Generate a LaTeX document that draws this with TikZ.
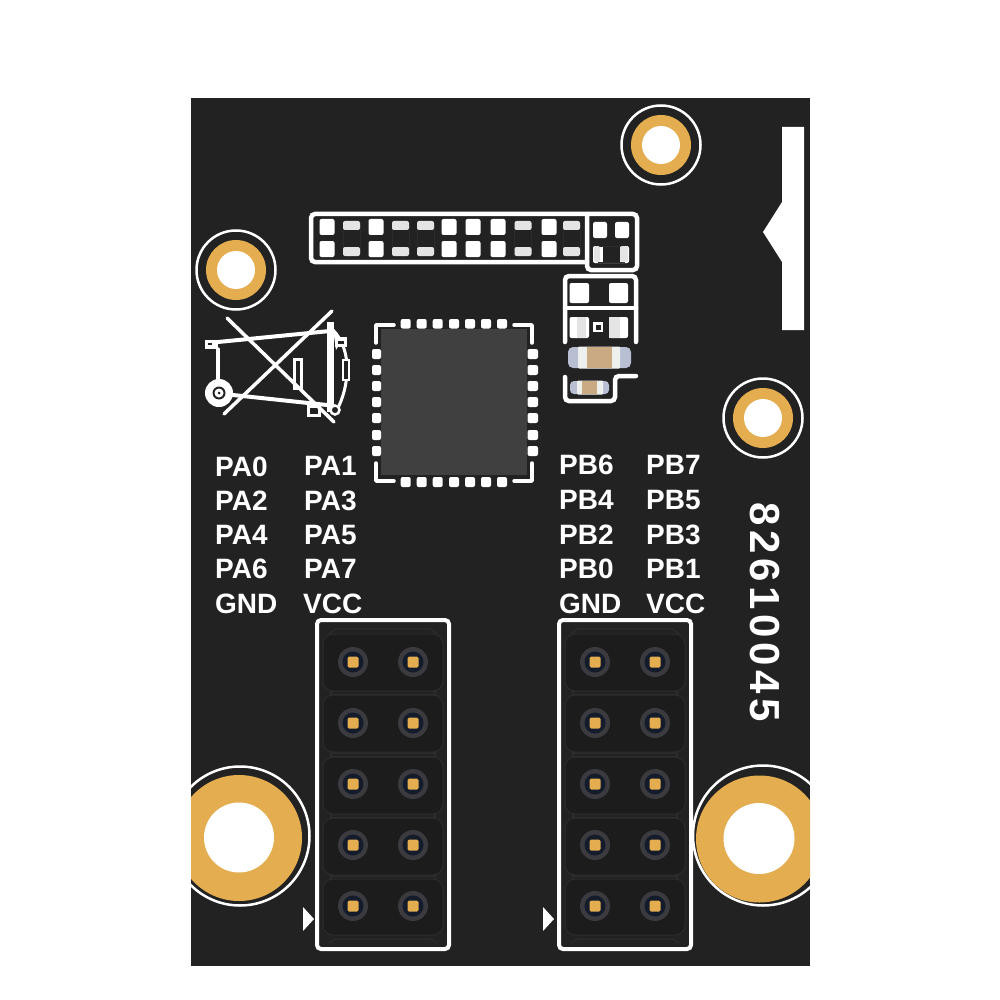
\documentclass[tikz,border=0pt]{standalone}
\usepackage{fontspec}
\setmainfont{Liberation Sans}
\definecolor{board}{HTML}{222222}
\definecolor{gold}{HTML}{E3AD50}
\definecolor{chipc}{HTML}{404040}
\definecolor{padg}{HTML}{E4E4E4}
\definecolor{capb}{HTML}{B9BFD3}
\definecolor{capw}{HTML}{EEF0EE}
\definecolor{tan}{HTML}{C9AA83}
\definecolor{hous}{HTML}{1C1C1C}
\definecolor{housl}{HTML}{2C2C2C}
\definecolor{ringc}{HTML}{3A3A3F}
\definecolor{pinb}{HTML}{141B2A}
\tikzset{
  silk/.style={draw=white,line width=4.5pt,rounded corners=4pt,line cap=round},
  thinsilk/.style={draw=white,line width=3.5pt,line cap=round,line join=round},
  wpad/.style={fill=white,rounded corners=2pt},
  gpad/.style={fill=padg,rounded corners=2pt},
  lbl/.style={text=white,font=\bfseries\fontsize{28}{28}\selectfont,anchor=base west,inner sep=0pt},
  housing/.style={fill=hous,draw=housl,line width=1pt,rounded corners=10pt},
  tab/.style={draw=housl,line width=1.2pt},
  faint/.style={draw=housl,line width=.8pt}
}
% ring cx cy r, pad cx cy r
\newcommand{\hole}[6]{%
  \draw[white,line width=2.5pt] (#1,#2) circle (#3);
  \fill[gold] (#4,#5) circle (#6);}
\newcommand{\pin}[2]{%
  \fill[ringc] (#1,#2) circle (15);
  \fill[pinb] (#1,#2) circle (10.5);
  \fill[gold,rounded corners=1.5pt] (#1-5.5,#2-5.5) rectangle (#1+5.5,#2+5.5);}
\newcommand{\header}[1]{%
  \begin{scope}[shift={(#1,0)}]
    \draw[tab] (12,634) -- (18,629) -- (114,629) -- (120,634);
    \draw[tab] (12,943) -- (18,939) -- (114,939) -- (120,943);
    \foreach \y in {690,752,813,875}{
      \draw[tab] (14,\y) -- (14,\y+6) (118,\y) -- (118,\y+6) (14,\y+1) -- (118,\y+1) (14,\y+5) -- (118,\y+5);}
    \foreach \t/\b in {634/691,695/752,757/814,818/875,879/935}{
      \path[housing] (6,\t) rectangle (126,\b);}
    \draw[silk,line width=4pt] (0,620) rectangle (132,949);
    \foreach \y in {662,723,784,845,906}{
      \pin{36}{\y}\pin{96}{\y}}
  \end{scope}}
\newcommand{\capac}[9]{% x0 x1 x2 x3 x4 x5 y0 y1 radius
  \fill[capb,rounded corners=#9] (#1,#7) rectangle (#6,#8);
  \fill[capw,rounded corners=1pt] (#2,#7-.5) rectangle (#5,#8+.5);
  \fill[tan] (#3,#7) rectangle (#4,#8);}
\begin{document}
\begin{tikzpicture}[x=1pt,y=-1pt]
\useasboundingbox (0,0) rectangle (1000,1000);
\fill[white] (0,0) rectangle (1000,1000);
\fill[board] (191,98) rectangle (810,966);
% mounting holes
\begin{scope}
  \clip (191,98) rectangle (810,966);
  \hole{661}{145}{39.5}{661}{145}{30}
  \hole{236}{270}{39.5}{236}{270}{30}
  \hole{763}{418}{39.5}{763}{418}{30}
  \hole{240}{836}{69.5}{239}{838}{63}
  \hole{763}{835.5}{70}{759.5}{839}{63.5}
  \fill[white] (661,145) circle (19);
  \fill[white] (236,270) circle (19);
  \fill[white] (763,418) circle (19);
  \fill[white] (239,837.5) circle (35);
  \fill[white] (759,838.5) circle (35.5);
\end{scope}
% right-edge silk
\fill[white] (782,127) -- (804,127) -- (804,330) -- (782,330) -- (782,262) -- (763,232) -- (782,202) -- cycle;
% top connector
\draw[silk] (587,214) -- (311,214) -- (311,262) -- (587,262);
\draw[silk] (587,214) -- (637,214) -- (637,270) -- (587,270) -- (587,214);
\foreach \x in {327,376,449,473,498,549}{
  \fill[wpad] (\x-7.5,219) rectangle (\x+7.5,235);
  \fill[wpad] (\x-7.5,241) rectangle (\x+7.5,257);}
\foreach \x in {351.5,400.5,425.5,523,571.5}{
  \draw[faint] (\x-8.5,225) rectangle (\x+8.5,252);
  \fill[gpad] (\x-8.5,221) rectangle (\x+8.5,230);
  \fill[gpad] (\x-8.5,247) rectangle (\x+8.5,256);}
\fill[wpad] (593,222) rectangle (607,238);
\fill[wpad] (615,222) rectangle (629,238);
\fill[wpad] (593,246) rectangle (629,263);
\fill[board] (603,246) rectangle (620,263);
\draw[faint] (598,246) rectangle (624,262);
\fill[gpad] (594,246) -- (600,246) -- (600,262) -- (594,262) -- cycle;
\fill[gpad] (620,246) -- (628,246) -- (628,262) -- (620,262) -- cycle;
% right small parts
\draw[silk] (565,342) -- (565,276) -- (636,276) -- (636,342);
\draw[thinsilk,line width=4.5pt] (565,308) -- (636,308);
\fill[wpad] (569.5,283) rectangle (589,303);
\fill[wpad] (609,283) rectangle (628,303);
\fill[wpad] (569.5,317) rectangle (589,338);
\fill[wpad] (609,317) rectangle (628,338);
\fill[padg] (577,317) rectangle (586,338);
\fill[padg] (609,317) rectangle (620,338);
\fill[white] (593,322) rectangle (603,332);
\fill[board] (595.5,324.5) rectangle (600.5,329.5);
\capac{568}{578}{587}{612}{620}{631}{347}{368}{5pt}
\draw[silk] (565,377) -- (565,401) -- (615,401) -- (615,376) -- (636,376);
\capac{570}{577}{582}{597}{603}{609}{381}{394}{4pt}
% chip
\fill[chipc] (381,329) rectangle (527,475);
\foreach \x in {405.7,421.7,437.7,454,470,486,502}{
  \fill[wpad] (\x-5,319) rectangle (\x+5,328.5);
  \fill[wpad] (\x-5,477) rectangle (\x+5,487);}
\foreach \y in {354,370,386,402,418,435,451}{
  \fill[wpad] (372,\y-5) rectangle (381,\y+5);
  \fill[wpad] (527.5,\y-5) rectangle (538,\y+5);}
\draw[thinsilk] (394,325) -- (376,325) -- (376,343);
\draw[thinsilk] (514,325) -- (532,325) -- (532,343);
\draw[thinsilk] (394,481) -- (376,481) -- (376,463);
\draw[thinsilk] (514,481) -- (532,481) -- (532,463);
% motor symbol
\draw[thinsilk,line width=4pt] (218,342) -- (330,331);
\fill[white] (205,340) rectangle (218,349);
\fill[board] (208,343) rectangle (212,345);
\draw[thinsilk] (218,349) -- (218,382);
\draw[thinsilk,line width=4pt] (233,395) -- (327,405);
\fill[white] (219,393) circle (14);
\fill[board] (219,393) circle (6.5);
\fill[white] (219,393) circle (4.5);
\fill[board] (219,393) circle (1.5);
\draw[draw=white,line width=7pt] (330,322) -- (330,412);
\fill[white] (333,329) -- (342,340) -- (336,350) -- cycle;
\draw[thinsilk,line width=3pt] (333,330) .. controls (343,340) and (347,355) .. (347,368) .. controls (347,385) and (343,398) .. (337,410);
\fill[white] (335,337) rectangle (347,347);
\fill[board] (338,340.5) rectangle (344,344);
\draw[draw=white,line width=2.5pt,fill=board] (343,360) rectangle (349,380);
\draw[draw=white,line width=3pt,fill=board] (294,359) rectangle (301,388);
\draw[draw=white,line width=3pt,fill=board] (308,406) rectangle (319,415);
\draw[draw=white,line width=2.5pt,fill=board] (335,410) circle (4.5);
\draw[thinsilk] (227,318) -- (334,422);
\draw[thinsilk] (332,311) -- (224,414);
% headers
\header{317}
\header{559}
\fill[white] (303,907) -- (314,919) -- (303,931) -- cycle;
\fill[white] (543,907) -- (554,919) -- (543,931) -- cycle;
% labels
\node[lbl] (a0) at (215,476) {PA0};
\node[lbl] (a1) at (304,475) {PA1};
\node[lbl] (a2) at (215,510.5) {PA2};
\node[lbl] (a3) at (304,510) {PA3};
\node[lbl] (a4) at (215,544.5) {PA4};
\node[lbl] (a5) at (304,544) {PA5};
\node[lbl] (a6) at (215,578.5) {PA6};
\node[lbl] (a7) at (304,578) {PA7};
\node[lbl] (ag) at (215,613) {GND};
\node[lbl] (av) at (303,613) {VCC};
\node[lbl] (b6) at (559,474.5) {PB6};
\node[lbl] (b7) at (646,474.5) {PB7};
\node[lbl] (b4) at (559,509) {PB4};
\node[lbl] (b5) at (646,509) {PB5};
\node[lbl] (b2) at (559,544) {PB2};
\node[lbl] (b3) at (646,544) {PB3};
\node[lbl] (b0) at (559,578) {PB0};
\node[lbl] (b1) at (646,578) {PB1};
\node[lbl] (bg) at (559,613) {GND};
\node[lbl] (bv) at (646,613) {VCC};
\node[text=white,inner sep=0pt,anchor=base,rotate=-90,font=\bfseries\fontsize{42}{42}\selectfont] (num) at (750,612) {\addfontfeature{LetterSpace=11}82610045};
\end{tikzpicture}
\end{document}
